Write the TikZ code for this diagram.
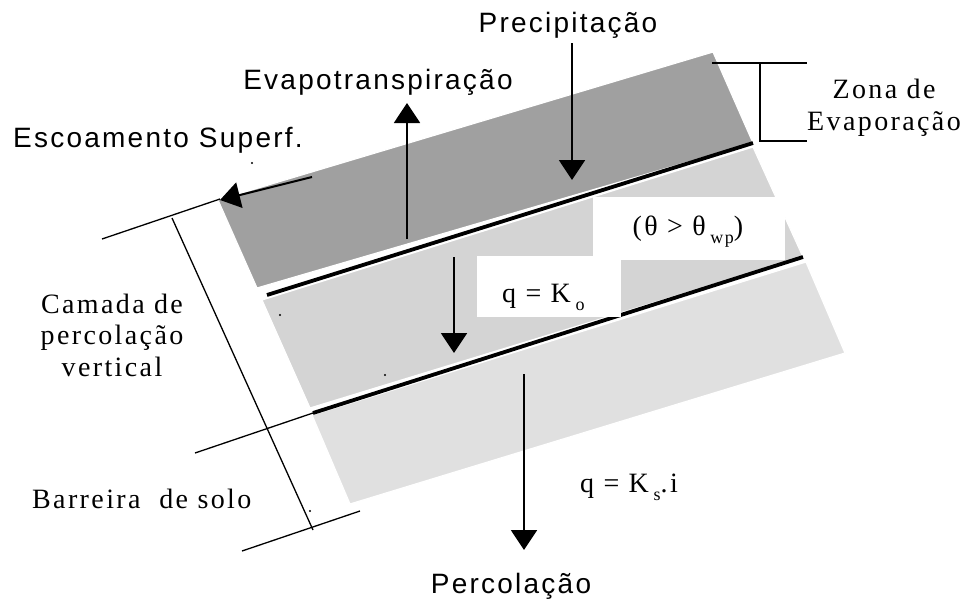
\documentclass[tikz,border=0pt]{standalone}
\usepackage{fontspec}
\setmainfont{Liberation Serif}
\newfontfamily\sanslbl[LetterSpace=8]{Liberation Sans}
\newfontfamily\seriflbl[LetterSpace=8.5]{Liberation Serif}
\usepackage{tikz}
\usetikzlibrary{arrows.meta}
\definecolor{soildark}{RGB}{160,160,160}
\definecolor{soilmid}{RGB}{212,212,212}
\definecolor{soillight}{RGB}{224,224,224}
\newcommand\low[1]{\raisebox{-8pt}{\fontsize{18}{18}\selectfont #1}}

\begin{document}
\begin{tikzpicture}[
  x=1pt, y=-1pt,
  flux/.style ={font=\sanslbl\fontsize{28}{32}\selectfont, inner sep=0pt},
  note/.style ={font=\seriflbl\fontsize{28}{31.5}\selectfont, inner sep=0pt,
                align=center},
  layer/.style={draw=white, line width=1.2pt},
  iface/.style={line width=3.8pt},
  dim/.style  ={line width=1.3pt},
  arr/.style  ={-{Triangle[length=20pt,width=26pt]}, line width=2pt}
]
  \useasboundingbox (0,0) rectangle (964,603);

  % soil layers
  \filldraw[layer, fill=soildark]  (218,200) -- (713,52)  -- (753,143) -- (257,288) -- cycle;
  \filldraw[layer, fill=soilmid]   (262,300) -- (753,147) -- (803,257) -- (310,408) -- cycle;
  \filldraw[layer, fill=soillight] (312,415) -- (806,262) -- (845,353) -- (350,504) -- cycle;
  \draw[iface] (267,295) -- (753,143);
  \draw[iface] (313,413) -- (803,257);
  \foreach \x/\y in {252/163, 280/315, 385/375, 310/511}
    \fill (\x,\y) circle (1.2pt);

  % white label boxes
  \fill[white] (593,197) rectangle (785,260);
  \fill[white] (477,256) rectangle (621,317);

  % dimension lines
  \draw[dim] (102,239) -- (220,199);
  \draw[dim] (172,218) -- (313,530);
  \draw[dim] (195,453) -- (313,413);
  \draw[dim] (242,551) -- (360,511);
  \draw[dim] (712,63) -- (807,63);
  \draw[dim] (760,63) -- (760,141) -- (807,141);

  % labels
  \node[flux, anchor=base]      (precip)   at (568,32)  {Precipitação};
  \node[flux, anchor=base]      (evapo)    at (378,89)  {Evapotranspiração};
  \node[flux, anchor=base west] (escoam)   at (13,147)  {Escoamento Superf.};
  \node[flux, anchor=base]      (percol)   at (511,593) {Percolação};
  \node[note, anchor=base]      (zona)     at (884,130) {Zona de\\Evaporação};
  \node[note, anchor=base]      (camada)   at (112,376) {Camada de\\percolação\\vertical};
  \node[note, anchor=base west] (barreira) at (32,508)  {Barreira\ \ de solo};
  \node[note, anchor=base]      (theta)    at (688,235) {(θ > θ\,\low{wp})};
  \node[note, anchor=base west] (qko)      at (502,302) {q = K\,\low{o}};
  \node[note, anchor=base west] (qks)      at (580,492) {q = K\,\low{s}.i};

  % fluxes
  \coordinate (rainA) at (572,43);  \coordinate (rainB) at (572,180);
  \coordinate (evA)   at (407,239); \coordinate (evB)   at (407,103);
  \coordinate (runA)  at (312,177); \coordinate (runB)  at (220,200);
  \coordinate (koA)   at (454,257); \coordinate (koB)   at (454,353);
  \coordinate (perA)  at (524,374); \coordinate (perB)  at (524,550);
  \draw[arr] (rainA) -- (rainB);
  \draw[arr] (evA)   -- (evB);
  \draw[arr] (runA)  -- (runB);
  \draw[arr] (koA)   -- (koB);
  \draw[arr] (perA)  -- (perB);
\end{tikzpicture}
\end{document}
